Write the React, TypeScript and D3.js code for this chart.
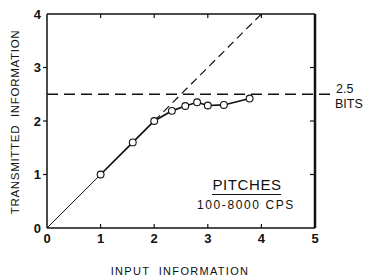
import React from "react";
import * as d3 from "d3";

const xTicks = [0, 1, 2, 3, 4, 5];
const yTicks = [0, 1, 2, 3, 4];
const inputInfo = [1.0, 1.6, 2.0, 2.33, 2.58, 2.8, 3.0, 3.3, 3.78];
const transmitted = [1.0, 1.6, 2.0, 2.19, 2.28, 2.35, 2.29, 2.3, 2.42];
const channelCapacity = 2.5;
const identityEnd = 4;

const W = 371;
const H = 278;
const margin = { left: 47, right: 56, top: 14, bottom: 50 };

export default function App() {
  const x = d3.scaleLinear().domain([0, 5]).range([margin.left, W - margin.right]);
  const y = d3.scaleLinear().domain([0, 4]).range([H - margin.bottom, margin.top]);
  const pts = inputInfo.map((v, i) => [v, transmitted[i]] as [number, number]);
  const line = d3.line<[number, number]>().x((d) => x(d[0])).y((d) => y(d[1]));
  const font = "'Liberation Sans', Arial, sans-serif";
  const ink = "#111";
  return (
    <svg width={W} height={H} style={{ position: "absolute", left: 0, top: 0, background: "#fff" }}>
      <rect x={0} y={0} width={W} height={H} fill="#fff" />
      {/* frame */}
      <line x1={x(0)} x2={x(5)} y1={y(4)} y2={y(4)} stroke={ink} strokeWidth={1.5} />
      <line x1={x(0)} x2={x(5)} y1={y(0)} y2={y(0)} stroke={ink} strokeWidth={1.5} />
      <line x1={x(0)} x2={x(0)} y1={y(0)} y2={y(4)} stroke={ink} strokeWidth={1.5} />
      <line x1={x(5)} x2={x(5)} y1={y(0)} y2={y(4)} stroke={ink} strokeWidth={2.5} />
      {/* ticks */}
      {xTicks.slice(1, -1).map((t) => (
        <g key={"xt" + t}>
          <line x1={x(t)} x2={x(t)} y1={y(0)} y2={y(0) - 4} stroke={ink} strokeWidth={1.2} />
          <line x1={x(t)} x2={x(t)} y1={y(4)} y2={y(4) + 4} stroke={ink} strokeWidth={1.2} />
        </g>
      ))}
      {yTicks.slice(1, -1).map((t) => (
        <g key={"yt" + t}>
          <line x1={x(0)} x2={x(0) - 4} y1={y(t)} y2={y(t)} stroke={ink} strokeWidth={1.2} />
          <line x1={x(5)} x2={x(5) - 5} y1={y(t)} y2={y(t)} stroke={ink} strokeWidth={1.2} />
        </g>
      ))}
      {/* tick labels */}
      {xTicks.map((t) => (
        <text key={"xl" + t} x={x(t)} y={y(0) + 15} textAnchor="middle" fontFamily={font} fontSize={13} fontWeight={600} fill={ink}>
          {t}
        </text>
      ))}
      {yTicks.map((t) => (
        <text key={"yl" + t} x={x(0) - 6} y={y(t) + 4.5} textAnchor="end" fontFamily={font} fontSize={13} fontWeight={600} fill={ink}>
          {t}
        </text>
      ))}
      {/* 2.5 bits dashed line */}
      <line
        x1={x(0)}
        x2={x(5) + 18}
        y1={y(channelCapacity)}
        y2={y(channelCapacity)}
        stroke={ink}
        strokeWidth={1.3}
        strokeDasharray="11,6"
      />
      <text x={x(5) + 21} y={y(channelCapacity) - 1} fontFamily={font} fontSize={12.5} fill={ink}>
        2.5
      </text>
      <text x={x(5) + 20} y={y(channelCapacity) + 13.5} fontFamily={font} fontSize={12.5} fill={ink}>
        BITS
      </text>
      {/* identity lines */}
      <line x1={x(0)} y1={y(0)} x2={x(inputInfo[0])} y2={y(transmitted[0])} stroke={ink} strokeWidth={1} />
      <line
        x1={x(2)}
        y1={y(2)}
        x2={x(identityEnd)}
        y2={y(identityEnd)}
        stroke={ink}
        strokeWidth={1.2}
        strokeDasharray="8,5"
      />
      {/* data */}
      <path d={line(pts) || ""} fill="none" stroke={ink} strokeWidth={1.7} />
      {pts.map((p, i) => (
        <circle key={i} cx={x(p[0])} cy={y(p[1])} r={3.4} fill="#fff" stroke={ink} strokeWidth={1.1} />
      ))}
      {/* annotation */}
      <text x={247} y={190} textAnchor="middle" fontFamily={font} fontSize={15} letterSpacing={0.6} fill={ink}>
        PITCHES
      </text>
      <line x1={212} x2={281} y1={194.5} y2={194.5} stroke={ink} strokeWidth={1} />
      <text x={246} y={209} textAnchor="middle" fontFamily={font} fontSize={12} letterSpacing={1.6} fill={ink}>
        100-8000 CPS
      </text>
      {/* axis titles */}
      <text x={180} y={275} textAnchor="middle" fontFamily={font} fontSize={11} letterSpacing={1.3} fill={ink} style={{ whiteSpace: "pre" }}>
        {"INPUT  INFORMATION"}
      </text>
      <text
        transform={`translate(19,122) rotate(-90)`}
        textAnchor="middle"
        fontFamily={font}
        fontSize={11.5}
        letterSpacing={0.7}
        fill={ink}
        style={{ whiteSpace: "pre" }}
      >
        {"TRANSMITTED  INFORMATION"}
      </text>
    </svg>
  );
}
